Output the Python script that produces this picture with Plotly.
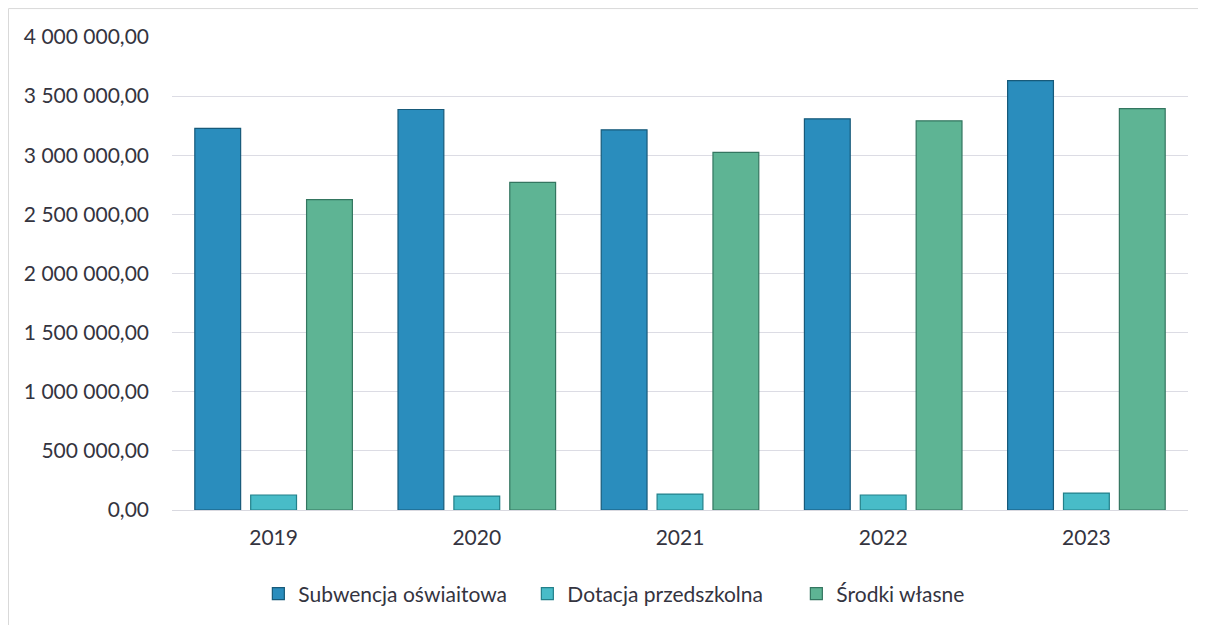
import plotly.graph_objects as go

years = ["2019", "2020", "2021", "2022", "2023"]
subwencja = [3227000, 3387000, 3215000, 3308000, 3631000]
dotacja = [127000, 118000, 135000, 127000, 143000]
srodki = [2624000, 2770000, 3024000, 3291000, 3395000]

tick_vals = [0, 500000, 1000000, 1500000, 2000000, 2500000, 3000000, 3500000, 4000000]
tick_text = ["0,00", "500 000,00", "1 000 000,00", "1 500 000,00", "2 000 000,00",
             "2 500 000,00", "3 000 000,00", "3 500 000,00", "4 000 000,00"]

font_family = "Lato, 'Open Sans', sans-serif"
text_color = "#34343f"
border = dict(color="#d9d9d9", width=1)

fig = go.Figure()
fig.add_trace(go.Bar(name="Subwencja oświaitowa", x=years, y=subwencja,
                     marker=dict(color="#2a8dbd", line=dict(color="#175a7a", width=1.2))))
fig.add_trace(go.Bar(name="Dotacja przedszkolna", x=years, y=dotacja,
                     marker=dict(color="#48bcc8", line=dict(color="#23808a", width=1.2))))
fig.add_trace(go.Bar(name="Środki własne", x=years, y=srodki,
                     marker=dict(color="#5eb494", line=dict(color="#347660", width=1.2))))

fig.update_layout(
    width=1198, height=617,
    barmode="group", bargap=0.175, bargroupgap=0.18,
    paper_bgcolor="white", plot_bgcolor="white",
    margin=dict(l=164, r=18, t=29, b=114),
    font=dict(family=font_family, size=21, color=text_color),
    showlegend=True,
    legend=dict(orientation="h", x=0.085, xanchor="left", y=-0.175, yanchor="middle",
                font=dict(size=21, color=text_color), itemwidth=30,
                entrywidth=224, entrywidthmode="pixels",
                traceorder="normal"),
    shapes=[
        dict(type="line", xref="paper", yref="paper",
             x0=-0.1609, x1=1.02, y0=1.0601, y1=1.0601, line=border, layer="below"),
        dict(type="line", xref="paper", yref="paper",
             x0=-0.1609, x1=-0.1609, y0=-0.4, y1=1.0601, line=border, layer="below"),
    ],
)
fig.update_xaxes(showgrid=False, showline=True, linecolor="#d9d9e0", linewidth=1,
                 ticks="", tickfont=dict(size=21, color=text_color), ticklabelstandoff=9)
fig.update_yaxes(range=[0, 4000000], tickvals=tick_vals, ticktext=tick_text,
                 showgrid=True, gridcolor="#dcdce4", gridwidth=1, zeroline=False,
                 showline=False, ticks="", tickfont=dict(size=21, color=text_color),
                 ticklabelstandoff=22)

fig.write_html("out.html")
